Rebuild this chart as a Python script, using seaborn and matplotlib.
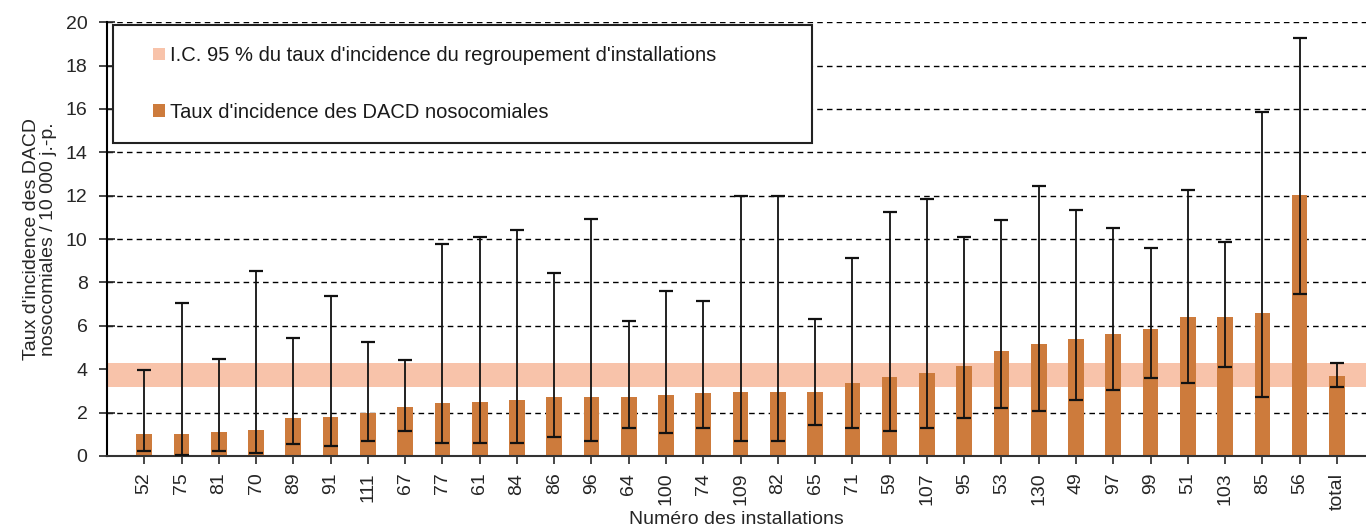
import numpy as np
import pandas as pd
import matplotlib
matplotlib.use("Agg")
import matplotlib.pyplot as plt
import seaborn as sns
from matplotlib.patches import Patch, Rectangle
from matplotlib.legend_handler import HandlerPatch

# Data
installations = ['52', '75', '81', '70', '89', '91', '111', '67', '77', '61', '84',
                 '86', '96', '64', '100', '74', '109', '82', '65', '71', '59', '107',
                 '95', '53', '130', '49', '97', '99', '51', '103', '85', '56', 'total']
taux = [1.0, 1.0, 1.1, 1.2, 1.75, 1.8, 1.97, 2.27, 2.43, 2.5, 2.6,
        2.73, 2.73, 2.73, 2.81, 2.89, 2.96, 2.96, 2.96, 3.35, 3.63, 3.84,
        4.15, 4.84, 5.16, 5.38, 5.62, 5.84, 6.39, 6.39, 6.58, 12.03, 3.69]
ic_bas = [0.24, 0.05, 0.24, 0.15, 0.54, 0.46, 0.71, 1.17, 0.61, 0.61, 0.61,
          0.86, 0.71, 1.28, 1.07, 1.28, 0.71, 0.71, 1.43, 1.28, 1.17, 1.28,
          1.74, 2.2, 2.09, 2.58, 3.04, 3.58, 3.38, 4.12, 2.73, 7.45, 3.19]
ic_haut = [3.96, 7.06, 4.49, 8.54, 5.42, 7.39, 5.27, 4.42, 9.77, 10.08, 10.41,
           8.45, 10.95, 6.22, 7.62, 7.16, 11.98, 11.98, 6.3, 9.11, 11.26, 11.87,
           10.11, 10.88, 12.44, 11.34, 10.49, 9.57, 12.26, 9.88, 15.84, 19.25, 4.3]
# IC 95 % du regroupement
ic_groupe = [3.17, 4.30]

df = pd.DataFrame({'installation': installations, 'taux': taux,
                   'bas': ic_bas, 'haut': ic_haut})

bar_color = '#CD7B3C'
band_color = '#F8C3AA'

sns.set_style('white')
plt.rcParams['font.family'] = ['Liberation Sans', 'DejaVu Sans']

fig = plt.figure(figsize=(13.66, 5.29), dpi=100)
ax = fig.add_axes([0.0783, 0.138, 0.9217, 0.820])

# grid first, then the band, then the bars
ax.set_axisbelow(True)
ax.yaxis.grid(True, color='black', linestyle=(0, (4, 3)), linewidth=1)
ax.axhspan(ic_groupe[0], ic_groupe[1], color=band_color, zorder=0.8, lw=0)

sns.barplot(data=df, x='installation', y='taux', order=installations,
            color=bar_color, saturation=1, width=0.42, linewidth=0,
            edgecolor=bar_color, ax=ax, zorder=2)

# error bars (IC 95 % of each installation)
pos = np.arange(len(installations))
yerr = [df['taux'] - df['bas'], df['haut'] - df['taux']]
ax.errorbar(pos, df['taux'], yerr=yerr, fmt='none', ecolor='#111111',
            elinewidth=1.3, capsize=5, capthick=1.6, zorder=3)

ax.set_xlim(-1, 32.78)
ax.set_ylim(0, 20)
ax.set_yticks(np.arange(0, 21, 2))

for s in ['top', 'right']:
    ax.spines[s].set_visible(False)
ax.spines['left'].set_color('black')
ax.spines['bottom'].set_color('#333333')
ax.spines['left'].set_linewidth(1.5)
ax.spines['bottom'].set_linewidth(1.5)

ax.tick_params(axis='y', direction='inout', length=12, width=1.2,
               labelsize=14, left=True, pad=8)
ax.tick_params(axis='x', direction='out', length=6, width=1.2,
               labelsize=14, bottom=True, rotation=90, pad=6)

ax.set_xlabel('Numéro des installations', fontsize=14, labelpad=1)
ax.set_ylabel("Taux d'incidence des DACD\nnosocomiales / 10 000 j.-p.",
              fontsize=14, labelpad=6, linespacing=1.05)


# small square drawn at the right end of the handle area
def square_patch(legend, orig_handle, xdescent, ydescent, width, height, fontsize):
    return Rectangle((-xdescent + width - height, -ydescent), height, height)


handles = [Patch(facecolor=band_color, edgecolor='none'),
           Patch(facecolor=bar_color, edgecolor='none')]
labels = ["I.C. 95 % du taux d'incidence du regroupement d'installations",
          "Taux d'incidence des DACD nosocomiales"]
leg = ax.legend(handles, labels, loc='upper left',
                bbox_to_anchor=(0.0048, 0.728, 0.555, 0.265), mode='expand',
                fontsize=14.5, frameon=True, fancybox=False, framealpha=1,
                handlelength=1.55, handleheight=0.55, handletextpad=0.25,
                labelspacing=1.85, borderpad=1.05, borderaxespad=0,
                handler_map={Patch: HandlerPatch(patch_func=square_patch)})
leg.get_frame().set_edgecolor('#222222')
leg.get_frame().set_linewidth(1.5)
for t in leg.get_texts():
    t.set_color('#1a1a1a')

plt.savefig('out.png', dpi=100)
